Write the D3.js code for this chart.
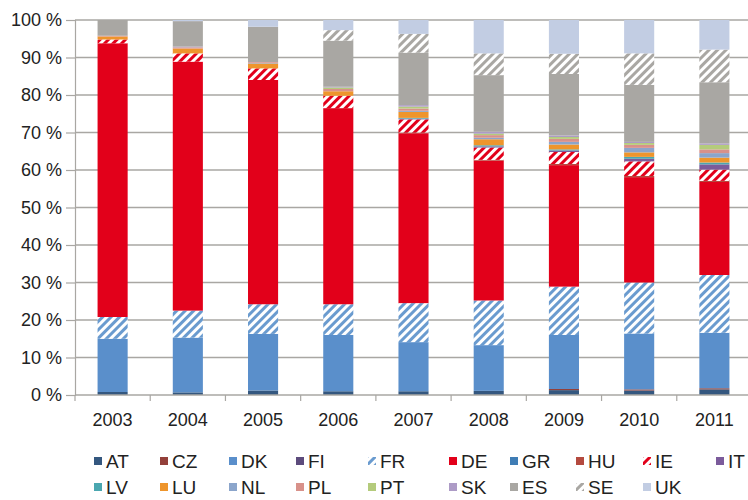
<!DOCTYPE html>
<html>
<head>
<meta charset="utf-8">
<script src="https://cdn.jsdelivr.net/npm/d3@7"></script>
<style>
  body { margin: 0; background: #fff; }
  text { font-family: "Liberation Sans", Arial, sans-serif; }
</style>
</head>
<body>
<div id="chart"></div>
<script>
const years = ['2003', '2004', '2005', '2006', '2007', '2008', '2009', '2010', '2011'];
const countries = ['AT', 'CZ', 'DK', 'FI', 'FR', 'DE', 'GR', 'HU', 'IE', 'IT',
                   'LV', 'LU', 'NL', 'PL', 'PT', 'SK', 'ES', 'SE', 'UK'];
const yTicks = [0, 10, 20, 30, 40, 50, 60, 70, 80, 90, 100];

// share per country, one value per year (percent)
const AT = [0.8, 0.7, 1.2, 1.0, 1.0, 1.1, 1.3, 1.2, 1.5];
const CZ = [0, 0, 0, 0, 0, 0, 0.3, 0.3, 0.3];
const DK = [14.2, 14.6, 15.1, 15.0, 13.1, 12.2, 14.4, 14.9, 14.8];
const FI = [0, 0, 0, 0, 0, 0, 0, 0, 0];
const FR = [5.8, 7.2, 7.9, 8.2, 10.4, 11.9, 12.9, 13.6, 15.4];
const DE = [73.0, 66.4, 59.8, 52.3, 45.3, 37.3, 32.4, 28.1, 24.8];
const GR = [0, 0, 0, 0, 0, 0, 0, 0, 0];
const HU = [0, 0, 0, 0, 0.2, 0.2, 0.3, 0.3, 0.3];
const IE = [1.0, 2.2, 3.1, 3.3, 3.5, 3.3, 3.2, 3.9, 3.0];
const IT = [0, 0, 0, 0, 0.2, 0.3, 0.4, 0.7, 1.4];
const LV = [0, 0, 0, 0, 0.2, 0.3, 0.3, 0.5, 0.5];
const LU = [0.8, 1.3, 1.3, 1.2, 1.6, 1.6, 1.3, 1.2, 1.3];
const NL = [0, 0, 0.2, 0, 0.3, 0.4, 0.7, 1.2, 1.2];
const PL = [0.2, 0.3, 0.2, 0.6, 0.6, 0.7, 0.8, 0.8, 1.0];
const PT = [0, 0, 0, 0.4, 0.5, 0.4, 0.5, 0.5, 1.2];
const SK = [0, 0.2, 0, 0.2, 0.4, 0.5, 0.4, 0.3, 0.4];
const ES = [4.2, 6.8, 9.4, 12.3, 14.0, 15.1, 16.4, 15.2, 16.3];
const SE = [0, 0, 0, 2.8, 5.0, 5.8, 5.4, 8.4, 8.7];
const UK = [0, 0.3, 1.8, 2.7, 3.7, 8.9, 9.0, 8.9, 7.9];

const seriesValues = { AT, CZ, DK, FI, FR, DE, GR, HU, IE, IT, LV, LU, NL, PL, PT, SK, ES, SE, UK };

const colors = {
  AT: '#34577f', CZ: '#93403a', DK: '#5a8fcb', FI: '#5c4b7c', FR: '#6a9bcf',
  DE: '#e2001a', GR: '#3f7db5', HU: '#b44a3f', IE: '#e2001a', IT: '#7b5b9b',
  LV: '#4aa7b0', LU: '#ee952c', NL: '#8ba5cb', PL: '#d8918a', PT: '#b4cb7c',
  SK: '#ad9bc6', ES: '#a9a7a3', SE: '#a9a7a3', UK: '#c2cde3'
};
const hatched = ['FR', 'IE', 'SE'];

const table = years.map((yr, i) => {
  const row = { Year: yr };
  countries.forEach(c => { row[c] = seriesValues[c][i]; });
  return row;
});

const W = 748, H = 500;
const margin = { top: 20, right: -4, bottom: 105, left: 75 };
const width = W - margin.left - margin.right,
      height = H - margin.top - margin.bottom;

const svg = d3.select('#chart').append('svg')
  .attr('width', W).attr('height', H);

const defs = svg.append('defs');
hatched.forEach(c => {
  const p = defs.append('pattern')
    .attr('id', 'hatch-' + c)
    .attr('patternUnits', 'userSpaceOnUse')
    .attr('width', 6).attr('height', 6)
    .attr('patternTransform', 'rotate(45)');
  p.append('rect').attr('width', 6).attr('height', 6).attr('fill', '#fff');
  p.append('rect').attr('width', 3).attr('height', 6).attr('fill', colors[c]);
});
const fillOf = c => hatched.includes(c) ? `url(#hatch-${c})` : colors[c];

const g = svg.append('g').attr('transform', `translate(${margin.left},${margin.top})`);

const x = d3.scaleBand().domain(years).range([0, width]).paddingInner(0.6).paddingOuter(0.3);
const y = d3.scaleLinear().domain([0, 100]).range([height, 0]);

// gridlines
g.selectAll('.grid')
  .data(yTicks.filter(d => d > 0))
  .enter().append('line')
  .attr('class', 'grid')
  .attr('x1', 0).attr('x2', width)
  .attr('y1', d => y(d)).attr('y2', d => y(d))
  .attr('stroke', '#a9a7a3').attr('stroke-width', 1.5);

// stacked bars
const stacked = d3.stack().keys(countries)(table);
g.selectAll('.layer')
  .data(stacked)
  .enter().append('g')
  .attr('class', 'layer')
  .attr('fill', d => fillOf(d.key))
  .selectAll('rect')
  .data(d => d)
  .enter().append('rect')
  .attr('x', d => x(d.data.Year))
  .attr('width', x.bandwidth())
  .attr('y', d => y(d[1]))
  .attr('height', d => y(d[0]) - y(d[1]));

// y axis
const yAxis = g.append('g')
  .call(d3.axisLeft(y).tickValues(yTicks).tickFormat(d => d + ' %').tickSize(9).tickPadding(4));
yAxis.select('.domain').attr('stroke', '#a9a7a3').attr('stroke-width', 1.2);
yAxis.selectAll('.tick line').attr('stroke', '#a9a7a3').attr('stroke-width', 1.2);
yAxis.selectAll('.tick text').attr('fill', '#222').style('font-size', '18px');

// x axis: ticks at band boundaries
const xAxis = g.append('g').attr('transform', `translate(0,${height})`);
xAxis.append('line')
  .attr('x1', 0).attr('x2', width)
  .attr('stroke', '#a9a7a3').attr('stroke-width', 1.5);
const step = x.step();
xAxis.selectAll('.xtick')
  .data(years)
  .enter().append('line')
  .attr('class', 'xtick')
  .attr('x1', d => x(d) - x.paddingOuter() * step)
  .attr('x2', d => x(d) - x.paddingOuter() * step)
  .attr('y1', 0).attr('y2', 6)
  .attr('stroke', '#a9a7a3').attr('stroke-width', 1.2);
xAxis.selectAll('.xlabel')
  .data(years)
  .enter().append('text')
  .attr('class', 'xlabel')
  .attr('x', d => x(d) + x.bandwidth() / 2)
  .attr('y', 31)
  .attr('text-anchor', 'middle')
  .attr('fill', '#222')
  .style('font-size', '18px')
  .text(d => d);

// legend
const legendX = [94, 160, 229, 296, 368, 449, 510, 576, 643, 716];
const legend = svg.append('g');
const items = legend.selectAll('.item')
  .data(countries)
  .enter().append('g')
  .attr('class', 'item')
  .attr('transform', (d, i) => `translate(${legendX[i % 10]},${i < 10 ? 462 : 488})`);
items.append('rect')
  .attr('x', 0).attr('y', -5).attr('width', 8).attr('height', 8)
  .attr('fill', d => fillOf(d));
items.append('text')
  .attr('x', 12).attr('y', 6)
  .attr('fill', '#222')
  .style('font-size', '19px')
  .text(d => d);
</script>
</body>
</html>
